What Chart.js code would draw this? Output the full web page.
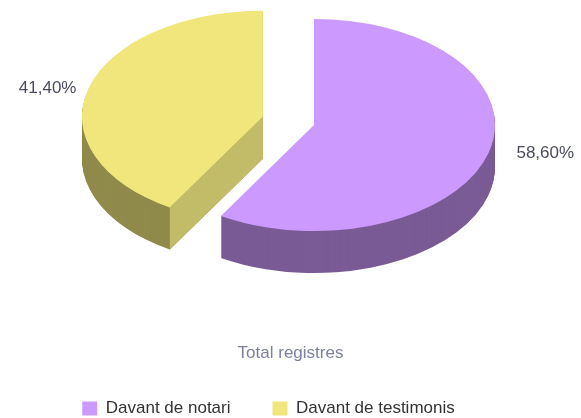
<!DOCTYPE html>
<html>
<head>
<meta charset="utf-8">
<script src="https://cdn.jsdelivr.net/npm/chart.js@4.4.1/dist/chart.umd.min.js"></script>
<style>
    html, body { margin: 0; padding: 0; background: #fff; }
    #wrap { width: 581px; height: 418px; }
</style>
</head>
<body>
<div id="wrap"><canvas id="grafico"></canvas></div>
<script>
var categorias = ['Davant de notari', 'Davant de testimonis'];
var valores = [58.6, 41.4];
var etiquetas = ['58,60%', '41,40%'];

var coresTopo = ['#cc99ff', '#f0e67c'];
var coresLado = ['#7a5b95', '#908a4b'];
var coresCorte = ['#9e7cc0', '#c2bb68'];

// elipse do tampo, altura da lateral e quanto cada fatia sai do centro (px)
var pie3d = { cx: 314, cy: 125, rx: 181, ry: 106, altura: 42, explode: [0, 53] };

function escala(arc) {
    return { sx: pie3d.rx / arc.outerRadius, sy: pie3d.ry / arc.outerRadius };
}

function deslocamento(arc, i) {
    var meio = (arc.startAngle + arc.endAngle) / 2;
    var e = pie3d.explode[i];
    return { x: Math.cos(meio) * e, y: Math.sin(meio) * e * pie3d.ry / pie3d.rx };
}

function paraTela(arc, i, lx, ly, desce) {
    var s = escala(arc);
    var d = deslocamento(arc, i);
    return {
        x: pie3d.cx + s.sx * (lx - arc.x) + d.x,
        y: pie3d.cy + s.sy * (ly - arc.y) + d.y + desce
    };
}

function desenharArco(ctx, arc, i, desce, cor) {
    var s = escala(arc);
    var d = deslocamento(arc, i);
    ctx.save();
    ctx.translate(pie3d.cx + d.x, pie3d.cy + d.y + desce);
    ctx.scale(s.sx, s.sy);
    ctx.translate(-arc.x, -arc.y);
    var original = arc.options;
    if (cor) {
        var tmp = Object.create(original);
        Object.defineProperty(tmp, 'backgroundColor', { value: cor });
        Object.defineProperty(tmp, 'borderColor', { value: cor });
        arc.options = tmp;
    }
    arc.draw(ctx);
    arc.options = original;
    ctx.restore();
}

// face do corte reto, so quando fica virada pro observador
function desenharCorte(ctx, arc, i) {
    var R = arc.outerRadius;
    [arc.startAngle, arc.endAngle].forEach(function (a, k) {
        var visivel = k === 0 ? Math.cos(a) < -0.01 : Math.cos(a) > 0.01;
        if (!visivel) return;
        var c0 = paraTela(arc, i, arc.x, arc.y, 0);
        var b0 = paraTela(arc, i, arc.x + R * Math.cos(a), arc.y + R * Math.sin(a), 0);
        ctx.save();
        ctx.fillStyle = coresCorte[i];
        ctx.beginPath();
        ctx.moveTo(c0.x, c0.y);
        ctx.lineTo(b0.x, b0.y);
        ctx.lineTo(b0.x, b0.y + pie3d.altura);
        ctx.lineTo(c0.x, c0.y + pie3d.altura);
        ctx.closePath();
        ctx.fill();
        ctx.restore();
    });
}

var pizza3d = {
    id: 'pizza3d',
    beforeDatasetsDraw: function (chart) {
        var ctx = chart.ctx;
        var arcs = chart.getDatasetMeta(0).data;
        arcs.forEach(function (arc, i) {
            for (var h = pie3d.altura; h > 0; h--) {
                desenharArco(ctx, arc, i, h, coresLado[i]);
            }
            desenharCorte(ctx, arc, i);
        });
        arcs.forEach(function (arc, i) {
            desenharArco(ctx, arc, i, 0, null);
        });
        return false;
    },
    afterDraw: function (chart) {
        var ctx = chart.ctx;
        var arcs = chart.getDatasetMeta(0).data;
        ctx.save();
        ctx.font = '17px "Liberation Sans", Arial, sans-serif';
        ctx.fillStyle = '#4a4b5e';
        ctx.textBaseline = 'middle';
        arcs.forEach(function (arc, i) {
            var meio = (arc.startAngle + arc.endAngle) / 2;
            var R = arc.outerRadius;
            var p = paraTela(arc, i, arc.x + R * Math.cos(meio), arc.y + R * Math.sin(meio), 0);
            var dir = Math.cos(meio) >= 0 ? 1 : -1;
            ctx.textAlign = dir > 0 ? 'left' : 'right';
            ctx.fillText(etiquetas[i], p.x + dir * 20 + 8, p.y);
        });
        ctx.restore();
    },
    afterLayout: function (chart) {
        // legenda original fica um pouco a esquerda do centro
        chart.legend.left -= 22;
        chart.legend.right -= 22;
    }
};

var grafico = new Chart(document.getElementById('grafico'), {
    type: 'pie',
    data: {
        labels: categorias,
        datasets: [{
            data: valores,
            backgroundColor: coresTopo,
            borderWidth: 0
        }]
    },
    options: {
        responsive: true,
        maintainAspectRatio: false,
        animation: false,
        layout: { padding: { bottom: -9 } },
        plugins: {
            tooltip: { enabled: false },
            title: {
                display: true,
                text: 'Total registres',
                position: 'bottom',
                weight: 500,
                color: '#7c809e',
                font: { family: '"Liberation Sans", Arial, sans-serif', size: 17, weight: 'normal' },
                padding: { top: 0, bottom: -6 }
            },
            legend: {
                position: 'bottom',
                labels: {
                    color: '#333333',
                    boxWidth: 15,
                    boxHeight: 14,
                    padding: 42,
                    font: { family: '"Liberation Sans", Arial, sans-serif', size: 17 }
                }
            }
        }
    },
    plugins: [pizza3d]
});
</script>
</body>
</html>
